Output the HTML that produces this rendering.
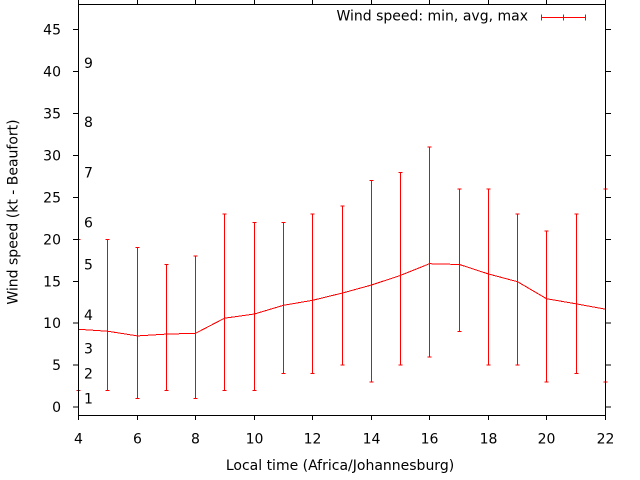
<!DOCTYPE html>
<html>
<head>
<meta charset="utf-8">
<style>
html,body{margin:0;padding:0;background:#fff;}
svg{display:block;}
text{font-family:"DejaVu Sans","Liberation Sans",sans-serif;font-size:14px;fill:#000;}
</style>
</head>
<body>
<svg width="640" height="480" viewBox="0 0 640 480" xmlns="http://www.w3.org/2000/svg">
<rect x="0" y="0" width="640" height="480" fill="#fff"/>

<!-- Beaufort labels -->
<g>
<text x="84" y="403.7">1</text>
<text x="84" y="378.5">2</text>
<text x="84" y="353.4">3</text>
<text x="84" y="319.8">4</text>
<text x="84" y="269.5">5</text>
<text x="84" y="227.6">6</text>
<text x="84" y="177.3">7</text>
<text x="84" y="127.0">8</text>
<text x="84" y="68.2">9</text>
</g>

<!-- data -->
<g stroke="#ff0000" stroke-width="1" fill="none" shape-rendering="crispEdges">
<path d="M78.5 390.3V239.4M76.5 390.3H80.5M76.5 239.4H80.5"/>
<path d="M107.5 390.3V239.4M105.5 390.3H109.5M105.5 239.4H109.5"/>
<path d="M137.5 398.7V247.7M135.5 398.7H139.5M135.5 247.7H139.5"/>
<path d="M166.5 390.3V264.5M164.5 390.3H168.5M164.5 264.5H168.5"/>
<path d="M195.5 398.7V256.1M193.5 398.7H197.5M193.5 256.1H197.5"/>
<path d="M224.5 390.3V214.2M222.5 390.3H226.5M222.5 214.2H226.5"/>
<path d="M254.5 390.3V222.6M252.5 390.3H256.5M252.5 222.6H256.5"/>
<path d="M283.5 373.6V222.6M281.5 373.6H285.5M281.5 222.6H285.5"/>
<path d="M312.5 373.6V214.2M310.5 373.6H314.5M310.5 214.2H314.5"/>
<path d="M342.5 365.2V205.8M340.5 365.2H344.5M340.5 205.8H344.5"/>
<path d="M371.5 382.0V180.6M369.5 382.0H373.5M369.5 180.6H373.5"/>
<path d="M400.5 365.2V172.3M398.5 365.2H402.5M398.5 172.3H402.5"/>
<path d="M429.5 356.8V147.1M427.5 356.8H431.5M427.5 147.1H431.5"/>
<path d="M459.5 331.6V189.0M457.5 331.6H461.5M457.5 189.0H461.5"/>
<path d="M488.5 365.2V189.0M486.5 365.2H490.5M486.5 189.0H490.5"/>
<path d="M517.5 365.2V214.2M515.5 365.2H519.5M515.5 214.2H519.5"/>
<path d="M546.5 382.0V231.0M544.5 382.0H548.5M544.5 231.0H548.5"/>
<path d="M576.5 373.6V214.2M574.5 373.6H578.5M574.5 214.2H578.5"/>
<path d="M605.5 382.0V189.0M603.5 382.0H607.5M603.5 189.0H607.5"/>
<polyline points="78.5,329.3 107.5,331.2 137.5,335.9 166.5,334.1 195.5,333.3 224.5,318.2 254.5,314.0 283.5,305.3 312.5,300.3 342.5,293.0 371.5,285.0 400.5,275.4 429.5,263.7 459.5,264.5 488.5,274.0 517.5,281.7 546.5,298.7 576.5,303.9 605.5,309.2"/>
<!-- legend sample -->
<path d="M541.5 17.5H585.5M541.5 14.5V20.5M585.5 14.5V20.5M563.5 14.5V20.5"/>
</g>

<!-- frame and ticks -->
<g stroke="#000" stroke-width="1" fill="none" shape-rendering="crispEdges">
<rect x="78.5" y="4.5" width="527" height="411"/>
<path d="M73 407.1H78M73 365.2H78M73 323.2H78M73 281.3H78M73 239.4H78M73 197.4H78M73 155.5H78M73 113.5H78M73 71.6H78M73 29.7H78"/>
<path d="M606 407.1H611M606 365.2H611M606 323.2H611M606 281.3H611M606 239.4H611M606 197.4H611M606 155.5H611M606 113.5H611M606 71.6H611M606 29.7H611"/>
<path d="M78.5 416V420M137.5 416V420M195.5 416V420M254.5 416V420M312.5 416V420M371.5 416V420M429.5 416V420M488.5 416V420M546.5 416V420M605.5 416V420"/>
<path d="M78.5 0V4M137.5 0V4M195.5 0V4M254.5 0V4M312.5 0V4M371.5 0V4M429.5 0V4M488.5 0V4M546.5 0V4M605.5 0V4"/>
</g>

<!-- y tick labels -->
<g text-anchor="end">
<text x="61" y="412.1">0</text>
<text x="61" y="370.2">5</text>
<text x="61" y="328.2">10</text>
<text x="61" y="286.3">15</text>
<text x="61" y="244.4">20</text>
<text x="61" y="202.4">25</text>
<text x="61" y="160.5">30</text>
<text x="61" y="118.5">35</text>
<text x="61" y="76.6">40</text>
<text x="61" y="34.7">45</text>
</g>

<!-- x tick labels -->
<g text-anchor="middle">
<text x="78.5" y="443.5">4</text>
<text x="137.5" y="443.5">6</text>
<text x="195.5" y="443.5">8</text>
<text x="254.5" y="443.5">10</text>
<text x="312.5" y="443.5">12</text>
<text x="371.5" y="443.5">14</text>
<text x="429.5" y="443.5">16</text>
<text x="488.5" y="443.5">18</text>
<text x="546.5" y="443.5">20</text>
<text x="605.5" y="443.5">22</text>
</g>

<text x="340" y="470" text-anchor="middle">Local time (Africa/Johannesburg)</text>
<text transform="translate(17.7,212) rotate(-90)" text-anchor="middle">Wind speed (kt - Beaufort)</text>
<text x="528" y="20.7" text-anchor="end">Wind speed: min, avg, max</text>
</svg>
</body>
</html>
